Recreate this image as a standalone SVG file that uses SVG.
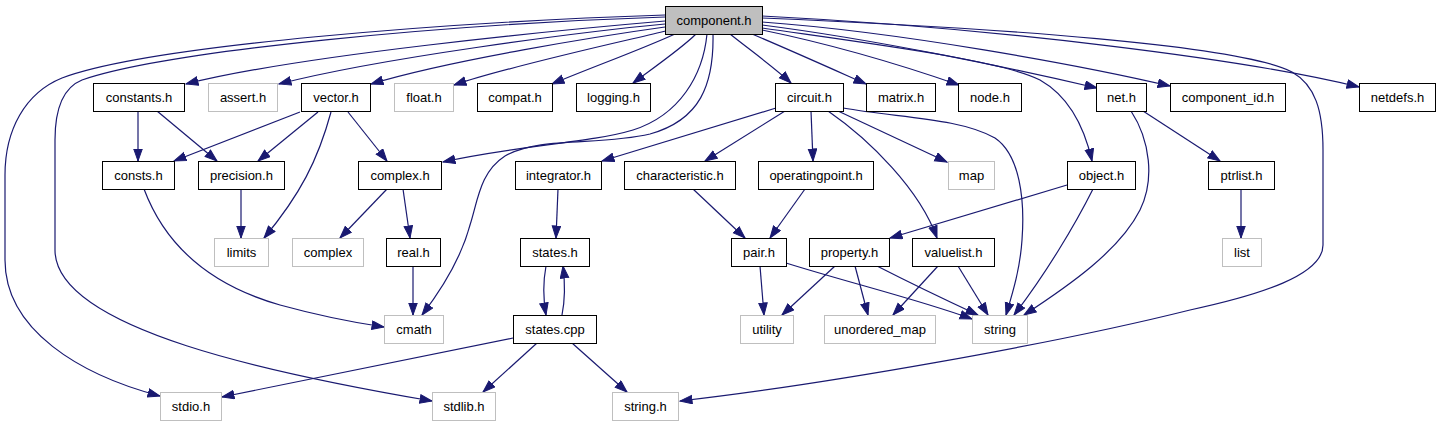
<svg xmlns="http://www.w3.org/2000/svg" width="1440" height="427" viewBox="0 0 1440 427">
<defs>
<style>
.n rect{fill:#fff;stroke:#000;stroke-width:1}
.g rect{fill:#fff;stroke:#bfbfbf;stroke-width:1}
.r rect{fill:#bfbfbf;stroke:#000;stroke-width:1}
text{font-family:"Liberation Sans",Arial,Helvetica,sans-serif;font-size:13px;text-anchor:middle;fill:#000}
#edges path{fill:none;stroke:#191970;stroke-width:1.2;marker-end:url(#a)}
</style>
<marker id="a" markerUnits="userSpaceOnUse" markerWidth="14" markerHeight="11" refX="12.5" refY="4.75" orient="auto">
<path d="M0.5,0.5 L12.5,4.75 L0.5,9 z" fill="#191970" stroke="#191970" stroke-width="1"/>
</marker>
</defs>
<rect width="1440" height="427" fill="#fff"/>
<g id="edges">
<path d="M665,15 C450,22 150,45 62,78 C25,93 5,130 5,175 L5,260 C5,330 80,375 160,396"/>
<path d="M665,17 C450,24 170,50 82,80 C62,88 55,110 55,140 L55,250 C55,330 280,375 432,401"/>
<path d="M665,21 C560,30 300,55 186,84"/>
<path d="M665,24 C580,32 380,58 279,84"/>
<path d="M665,27 C600,36 450,60 371,84"/>
<path d="M666,31 C620,42 510,66 454,85"/>
<path d="M675,34 C640,50 590,68 552,84"/>
<path d="M696,34 C682,48 656,66 633,83"/>
<path d="M730,34 C750,50 775,68 791,83"/>
<path d="M752,34 C790,50 830,68 866,84"/>
<path d="M762,30 C840,46 910,68 959,85"/>
<path d="M762,25 C880,40 1020,70 1097,88"/>
<path d="M762,22 C900,32 1080,65 1170,86"/>
<path d="M762,16 C1000,28 1250,60 1359,87"/>
<path d="M762,28 C880,45 1000,60 1040,80 C1070,97 1085,130 1092,161"/>
<path d="M762,18 C1000,28 1240,45 1292,72 C1315,85 1323,110 1323,150 L1323,245 C1323,275 1260,295 1190,310 C1050,345 820,385 680,401"/>
<path d="M707,34 C703,75 680,115 633,130 C590,143 520,145 443,162"/>
<path d="M713,34 C714,85 700,120 650,134 C600,146 540,136 505,156 C480,172 478,200 470,225 C462,255 445,285 422,315"/>
<path d="M138,111 L138,161"/>
<path d="M157,111 L217,161"/>
<path d="M300,112 L174,161"/>
<path d="M318,112 L258,161"/>
<path d="M331,112 C318,160 300,195 264,238"/>
<path d="M348,112 L387,161"/>
<path d="M144,189 C165,245 210,285 280,305 C320,316 350,322 384,327"/>
<path d="M241,189 L241,238"/>
<path d="M387,189 L340,238"/>
<path d="M403,189 L410,238"/>
<path d="M413,266 L413,315"/>
<path d="M558,189 L556,238"/>
<path d="M546,266 C543,282 543,298 546,315"/>
<path d="M562,315 C565,300 565,282 563,266"/>
<path d="M513,338 L222,397"/>
<path d="M537,343 L483,392"/>
<path d="M572,343 L627,392"/>
<path d="M776,108 L602,161"/>
<path d="M785,111 L705,161"/>
<path d="M811,111 L813,161"/>
<path d="M838,111 L947,162"/>
<path d="M828,111 C870,140 920,190 937,238"/>
<path d="M843,108 C900,118 960,118 995,138 C1020,155 1025,200 1022,240 C1020,270 1012,295 1006,315"/>
<path d="M1093,189 C1075,225 1045,275 1014,315"/>
<path d="M1131,111 C1150,140 1155,180 1140,210 C1120,250 1070,285 1024,315"/>
<path d="M1143,111 L1220,161"/>
<path d="M1241,189 L1241,238"/>
<path d="M1067,185 L890,238"/>
<path d="M693,189 L745,238"/>
<path d="M805,189 L770,238"/>
<path d="M760,266 L764,315"/>
<path d="M786,263 C850,283 920,300 972,319"/>
<path d="M877,266 C920,288 950,302 978,315"/>
<path d="M958,266 L988,315"/>
<path d="M938,266 L893,315"/>
<path d="M835,266 L782,315"/>
<path d="M855,266 L868,315"/>
</g>
<g id="node-component_h" class="r"><rect x="665.5" y="6.5" width="97" height="28"/><text x="714" y="25">component.h</text></g>
<g id="node-constants_h" class="n"><rect x="93.5" y="83.5" width="91" height="28"/><text x="139" y="102">constants.h</text></g>
<g id="node-assert_h" class="g"><rect x="208.5" y="83.5" width="69" height="28"/><text x="243" y="102">assert.h</text></g>
<g id="node-vector_h" class="n"><rect x="301.5" y="83.5" width="69" height="28"/><text x="336" y="102">vector.h</text></g>
<g id="node-float_h" class="g"><rect x="394.5" y="83.5" width="59" height="28"/><text x="424" y="102">float.h</text></g>
<g id="node-compat_h" class="n"><rect x="477.5" y="83.5" width="75" height="28"/><text x="515" y="102">compat.h</text></g>
<g id="node-logging_h" class="n"><rect x="576.5" y="83.5" width="74" height="28"/><text x="613.5" y="102">logging.h</text></g>
<g id="node-circuit_h" class="n"><rect x="775.5" y="83.5" width="68" height="28"/><text x="809.5" y="102">circuit.h</text></g>
<g id="node-matrix_h" class="n"><rect x="866.5" y="83.5" width="69" height="28"/><text x="901" y="102">matrix.h</text></g>
<g id="node-node_h" class="n"><rect x="958.5" y="83.5" width="63" height="28"/><text x="990" y="102">node.h</text></g>
<g id="node-net_h" class="n"><rect x="1096.5" y="83.5" width="50" height="28"/><text x="1121.5" y="102">net.h</text></g>
<g id="node-component_id_h" class="n"><rect x="1170.5" y="83.5" width="115" height="28"/><text x="1228" y="102">component_id.h</text></g>
<g id="node-netdefs_h" class="n"><rect x="1359.5" y="83.5" width="76" height="28"/><text x="1397.5" y="102">netdefs.h</text></g>
<g id="node-consts_h" class="n"><rect x="102.5" y="161.5" width="72" height="28"/><text x="138.5" y="180">consts.h</text></g>
<g id="node-precision_h" class="n"><rect x="198.5" y="161.5" width="86" height="28"/><text x="241.5" y="180">precision.h</text></g>
<g id="node-complex_h" class="n"><rect x="358.5" y="161.5" width="83" height="28"/><text x="400" y="180">complex.h</text></g>
<g id="node-integrator_h" class="n"><rect x="515.5" y="161.5" width="86" height="28"/><text x="558.5" y="180">integrator.h</text></g>
<g id="node-characteristic_h" class="n"><rect x="624.5" y="161.5" width="111" height="28"/><text x="680" y="180">characteristic.h</text></g>
<g id="node-operatingpoint_h" class="n"><rect x="758.5" y="161.5" width="115" height="28"/><text x="816" y="180">operatingpoint.h</text></g>
<g id="node-map" class="g"><rect x="948.5" y="161.5" width="46" height="28"/><text x="971.5" y="180">map</text></g>
<g id="node-object_h" class="n"><rect x="1067.5" y="161.5" width="68" height="28"/><text x="1101.5" y="180">object.h</text></g>
<g id="node-ptrlist_h" class="n"><rect x="1208.5" y="161.5" width="66" height="28"/><text x="1241.5" y="180">ptrlist.h</text></g>
<g id="node-limits" class="g"><rect x="214.5" y="238.5" width="54" height="28"/><text x="241.5" y="257">limits</text></g>
<g id="node-complex" class="g"><rect x="292.5" y="238.5" width="71" height="28"/><text x="328" y="257">complex</text></g>
<g id="node-real_h" class="n"><rect x="386.5" y="238.5" width="54" height="28"/><text x="413.5" y="257">real.h</text></g>
<g id="node-states_h" class="n"><rect x="520.5" y="238.5" width="69" height="28"/><text x="555" y="257">states.h</text></g>
<g id="node-pair_h" class="n"><rect x="731.5" y="238.5" width="55" height="28"/><text x="759" y="257">pair.h</text></g>
<g id="node-property_h" class="n"><rect x="809.5" y="238.5" width="80" height="28"/><text x="849.5" y="257">property.h</text></g>
<g id="node-valuelist_h" class="n"><rect x="912.5" y="238.5" width="82" height="28"/><text x="953.5" y="257">valuelist.h</text></g>
<g id="node-list" class="g"><rect x="1222.5" y="238.5" width="39" height="28"/><text x="1242" y="257">list</text></g>
<g id="node-cmath" class="g"><rect x="384.5" y="315.5" width="59" height="28"/><text x="414" y="334">cmath</text></g>
<g id="node-states_cpp" class="n"><rect x="513.5" y="315.5" width="83" height="28"/><text x="555" y="334">states.cpp</text></g>
<g id="node-utility" class="g"><rect x="740.5" y="315.5" width="53" height="28"/><text x="767" y="334">utility</text></g>
<g id="node-unordered_map" class="g"><rect x="824.5" y="315.5" width="111" height="28"/><text x="880" y="334">unordered_map</text></g>
<g id="node-string" class="g"><rect x="972.5" y="315.5" width="55" height="28"/><text x="1000" y="334">string</text></g>
<g id="node-stdio_h" class="g"><rect x="160.5" y="392.5" width="61" height="28"/><text x="191" y="411">stdio.h</text></g>
<g id="node-stdlib_h" class="g"><rect x="432.5" y="392.5" width="63" height="28"/><text x="464" y="411">stdlib.h</text></g>
<g id="node-string_h" class="g"><rect x="612.5" y="392.5" width="66" height="28"/><text x="645.5" y="411">string.h</text></g>
</svg>
